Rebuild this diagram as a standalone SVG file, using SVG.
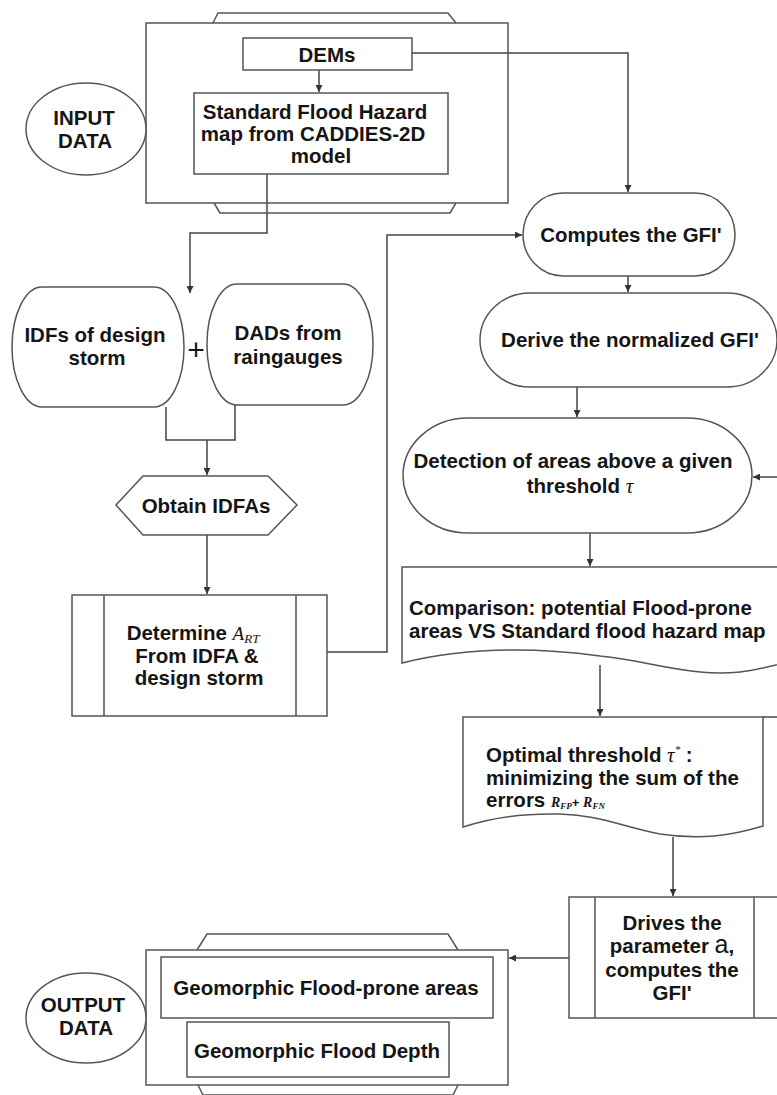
<svg xmlns="http://www.w3.org/2000/svg" width="777" height="1095" viewBox="0 0 777 1095">
<style>
.n { fill: #fff; stroke: #555; stroke-width: 1.5; }
.f { fill: none; stroke: #555; stroke-width: 1.5; }
.c { fill: none; stroke: #444; stroke-width: 1.5; }
.t { font-family: "Liberation Sans", Arial, sans-serif; font-weight: bold; font-size: 20.5px; fill: #151515; text-anchor: middle; }
.s { text-anchor: start; }
.m { font-family: "Liberation Serif", "Times New Roman", serif; font-style: italic; font-weight: normal; }
.mb { font-family: "Liberation Serif", "Times New Roman", serif; font-style: italic; font-weight: bold; }
</style>
<defs>
<marker id="ah" markerUnits="userSpaceOnUse" markerWidth="8" markerHeight="7" refX="7" refY="3.5" orient="auto">
<path d="M0,0 L7,3.5 L0,7 z" fill="#333"/>
</marker>
</defs>
<rect x="0" y="0" width="777" height="1095" fill="#fff"/>

<g id="connectors">
<path class="c" d="M319,70 V92" marker-end="url(#ah)"/>
<path class="c" d="M412,53 H628 V192" marker-end="url(#ah)"/>
<path class="c" d="M267,174 V233 H190 V293" marker-end="url(#ah)"/>
<path class="c" d="M166,407 V440 H235 V405"/>
<path class="c" d="M207,440 V475" marker-end="url(#ah)"/>
<path class="c" d="M207,535 V594" marker-end="url(#ah)"/>
<path class="c" d="M327,652 H387 V235 H522" marker-end="url(#ah)"/>
<path class="c" d="M628,276 V292" marker-end="url(#ah)"/>
<path class="c" d="M577,387 V417" marker-end="url(#ah)"/>
<path class="c" d="M590,533 V566" marker-end="url(#ah)"/>
<path class="c" d="M600,665 V716" marker-end="url(#ah)"/>
<path class="c" d="M673,837 V896" marker-end="url(#ah)"/>
<path class="c" d="M569,958 H509" marker-end="url(#ah)"/>
<path class="c" d="M763,717 H800 V477 H753" marker-end="url(#ah)"/>
</g>

<g id="input-container">
<polyline class="f" points="213,23 218,13 448,13 456,23"/>
<polyline class="f" points="214,203 220,213 450,213 456,203"/>
<rect class="f" x="146" y="23" width="362" height="180"/>
</g>

<g id="input-data">
<ellipse class="n" cx="86" cy="129" rx="60" ry="46"/>
<text class="t" x="84" y="125">INPUT</text>
<text class="t" x="85" y="148">DATA</text>
</g>

<g id="dems">
<rect class="n" x="243" y="38" width="169" height="32"/>
<text class="t" x="327" y="62">DEMs</text>
</g>

<g id="standard-map">
<rect class="n" x="194" y="93" width="254" height="81"/>
<text class="t" x="315" y="119">Standard Flood Hazard</text>
<text class="t" x="313" y="141">map from CADDIES-2D</text>
<text class="t" x="321" y="163">model</text>
</g>

<g id="idfs">
<rect class="n" x="12" y="287" width="172" height="120" rx="30" ry="60"/>
<text class="t" x="95" y="342">IDFs of design</text>
<text class="t" x="97" y="365">storm</text>
</g>

<text class="t" x="196" y="360" style="font-weight:normal;font-size:30px">+</text>

<g id="dads">
<rect class="n" x="207" y="284" width="166" height="121" rx="30" ry="60"/>
<text class="t" x="288" y="340">DADs from</text>
<text class="t" x="288" y="364">raingauges</text>
</g>

<g id="obtain-idfas">
<polygon class="n" points="116,505 143,476 268,476 297,505 268,535 143,535"/>
<text class="t" x="206" y="513">Obtain IDFAs</text>
</g>

<g id="determine-art">
<rect class="n" x="72" y="595" width="255" height="121"/>
<line class="f" x1="104" y1="595" x2="104" y2="716"/>
<line class="f" x1="296" y1="595" x2="296" y2="716"/>
<text class="t" x="193" y="640">Determine <tspan class="m" font-size="19">A</tspan><tspan class="m" font-size="13" dy="3">RT</tspan></text>
<text class="t" x="197" y="663">From IDFA &amp;</text>
<text class="t" x="199" y="685">design storm</text>
</g>

<g id="computes-gfi">
<rect class="n" x="523" y="193" width="212" height="83" rx="40" ry="41.5"/>
<text class="t" x="631" y="242">Computes the GFI'</text>
</g>

<g id="derive-normalized">
<rect class="n" x="480" y="293" width="297" height="94" rx="50" ry="47"/>
<text class="t" x="630" y="347">Derive the normalized GFI'</text>
</g>

<g id="detection">
<rect class="n" x="403" y="418" width="349" height="115" rx="65" ry="57.5"/>
<text class="t" x="573" y="468">Detection of areas above a given</text>
<text class="t" x="580" y="493">threshold <tspan class="m" font-size="21">τ</tspan></text>
</g>

<g id="comparison">
<path class="n" d="M402,567 H790 V662 C760,668 740,676 700,672 C660,668 640,660 600,656 C540,648 470,646 402,663 Z"/>
<text class="t s" x="409" y="615">Comparison: potential Flood-prone</text>
<text class="t s" x="409" y="638">areas VS Standard flood hazard map</text>
</g>

<g id="optimal-threshold">
<path class="n" d="M463,717 H763 V826 C730,836 700,840 660,834 C620,826 600,815 560,814 C520,813 490,818 463,827 Z"/>
<text class="t s" x="486" y="762">Optimal threshold  <tspan class="m" font-size="21" font-weight="normal">τ</tspan><tspan class="m" font-size="11" dy="-9">*</tspan><tspan dy="9"> :</tspan></text>
<text class="t s" x="486" y="785">minimizing the sum of the</text>
<text class="t s" x="486" y="807">errors <tspan class="mb" font-size="14">R</tspan><tspan class="mb" font-size="9" dy="2">FP</tspan><tspan font-size="13" dy="-2">+ </tspan><tspan class="mb" font-size="14">R</tspan><tspan class="mb" font-size="9" dy="2">FN</tspan></text>
</g>

<g id="drives-parameter">
<rect class="n" x="569" y="897" width="221" height="121"/>
<line class="f" x1="595" y1="897" x2="595" y2="1018"/>
<line class="f" x1="754" y1="897" x2="754" y2="1018"/>
<text class="t" x="672" y="930">Drives the</text>
<text class="t" x="672" y="953">parameter <tspan font-weight="normal" font-size="25">a</tspan>,</text>
<text class="t" x="672" y="977">computes the</text>
<text class="t" x="672" y="1000">GFI'</text>
</g>

<g id="output-container">
<polyline class="f" points="197,950 207,934 448,934 458,950"/>
<polyline class="f" points="198,1085 203,1095 453,1095 458,1085"/>
<rect class="f" x="146" y="950" width="362" height="135"/>
</g>

<g id="output-data">
<ellipse class="n" cx="86" cy="1018" rx="60" ry="45"/>
<text class="t" x="83" y="1012">OUTPUT</text>
<text class="t" x="86" y="1035">DATA</text>
</g>

<g id="flood-prone">
<rect class="n" x="161" y="957" width="332" height="61"/>
<text class="t" x="326" y="995">Geomorphic Flood-prone areas</text>
</g>

<g id="flood-depth">
<rect class="n" x="187" y="1022" width="262" height="55"/>
<text class="t" x="317" y="1058">Geomorphic Flood Depth</text>
</g>
</svg>
